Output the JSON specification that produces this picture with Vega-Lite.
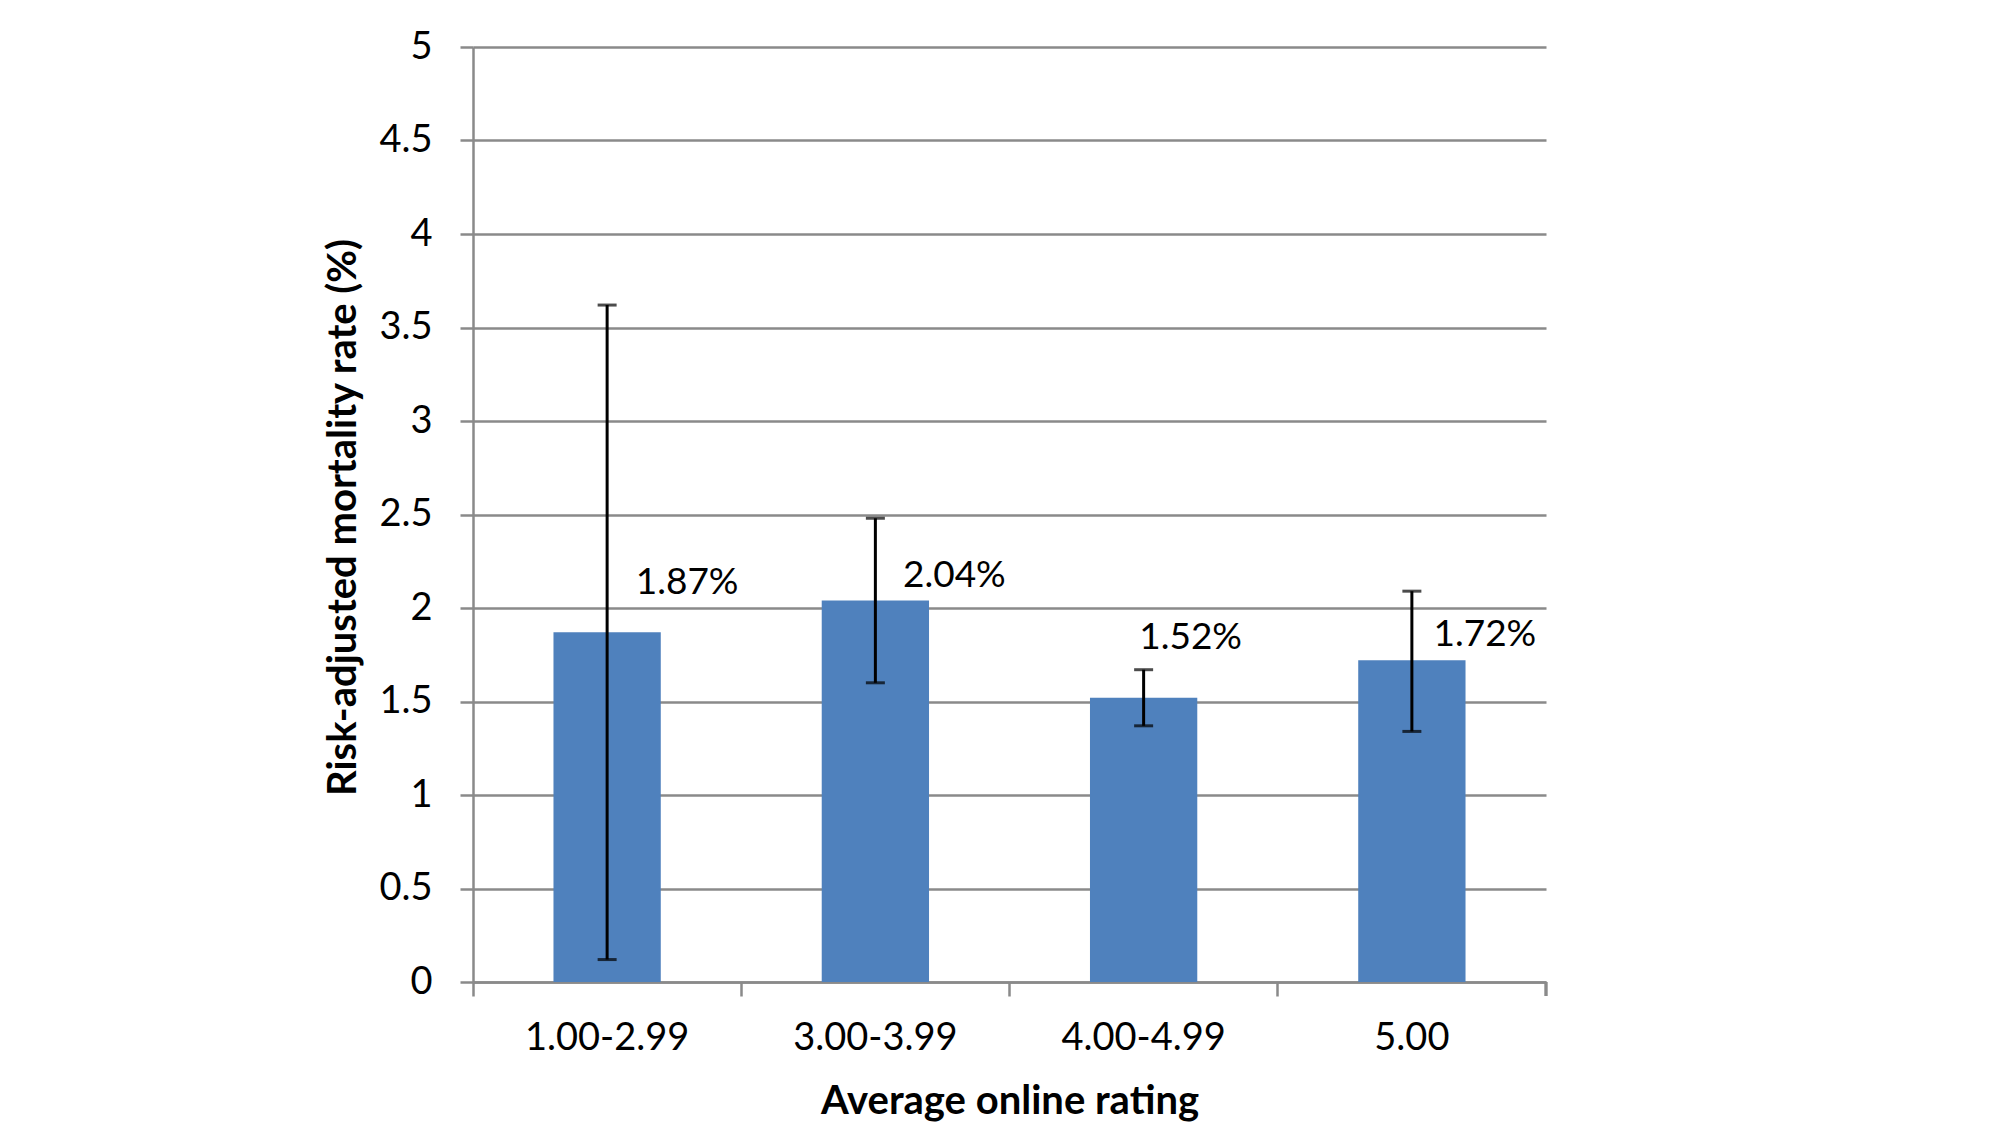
{
  "$schema": "https://vega.github.io/schema/vega-lite/v6.json",
  "width": 1073,
  "height": 935,
  "autosize": {"type": "none"},
  "padding": {"left": 473, "top": 47, "right": 454, "bottom": 164},
  "background": "white",
  "config": {
    "view": {"stroke": null},
    "font": "Lato",
    "axis": {
      "labelColor": "black",
      "titleColor": "black",
      "labelFontSize": 38,
      "titleFontSize": 40,
      "titleFontWeight": "bold",
      "domainColor": "#8a8a8a",
      "domainWidth": 2.5,
      "tickColor": "#8a8a8a",
      "tickWidth": 2.5,
      "gridColor": "#8a8a8a",
      "gridWidth": 2.5
    }
  },
  "data": {
    "values": [
      {"rating": "1.00-2.99", "rate": 1.87, "lower": 0.12, "upper": 3.62, "label": "1.87%"},
      {"rating": "3.00-3.99", "rate": 2.04, "lower": 1.6, "upper": 2.48, "label": "2.04%"},
      {"rating": "4.00-4.99", "rate": 1.52, "lower": 1.37, "upper": 1.67, "label": "1.52%"},
      {"rating": "5.00", "rate": 1.72, "lower": 1.34, "upper": 2.09, "label": "1.72%"}
    ]
  },
  "encoding": {
    "x": {
      "field": "rating",
      "type": "nominal",
      "sort": null,
      "scale": {"paddingInner": 0, "paddingOuter": 0},
      "axis": {
        "title": "Average online rating",
        "titleY": 119,
        "titleBaseline": "middle",
        "labelAngle": 0,
        "labelBaseline": "middle",
        "labelPadding": 42,
        "tickSize": 14,
        "bandPosition": 0,
        "grid": false
      }
    }
  },
  "layer": [
    {
      "mark": {"type": "bar", "color": "#4f81bd", "width": {"band": 0.4}},
      "encoding": {
        "y": {
          "field": "rate",
          "type": "quantitative",
          "scale": {"domain": [0, 5], "nice": false},
          "axis": {
            "title": "Risk-adjusted mortality rate (%)",
            "values": [0, 0.5, 1, 1.5, 2, 2.5, 3, 3.5, 4, 4.5, 5],
            "format": "~g",
            "titleX": -130,
            "titleY": 470,
            "titleAngle": -90,
            "titleAlign": "center",
            "titleBaseline": "middle",
            "labelPadding": 28,
            "tickSize": 13,
            "grid": true
          }
        }
      }
    },
    {
      "mark": {"type": "rule", "color": "black", "strokeWidth": 3},
      "encoding": {
        "y": {"field": "lower", "type": "quantitative"},
        "y2": {"field": "upper"}
      }
    },
    {
      "mark": {"type": "tick", "color": "black", "size": 19, "thickness": 3, "orient": "horizontal"},
      "encoding": {"y": {"field": "lower", "type": "quantitative"}}
    },
    {
      "mark": {"type": "tick", "color": "black", "size": 19, "thickness": 3, "orient": "horizontal"},
      "encoding": {"y": {"field": "upper", "type": "quantitative"}}
    },
    {
      "transform": [{"filter": "datum.rating === '1.00-2.99'"}],
      "mark": {"type": "text", "fontSize": 37, "align": "center", "baseline": "middle", "dx": 80, "dy": -49, "color": "black"},
      "encoding": {"y": {"field": "rate", "type": "quantitative"}, "text": {"field": "label"}}
    },
    {
      "transform": [{"filter": "datum.rating === '3.00-3.99'"}],
      "mark": {"type": "text", "fontSize": 37, "align": "center", "baseline": "middle", "dx": 79, "dy": -25, "color": "black"},
      "encoding": {"y": {"field": "rate", "type": "quantitative"}, "text": {"field": "label"}}
    },
    {
      "transform": [{"filter": "datum.rating === '4.00-4.99'"}],
      "mark": {"type": "text", "fontSize": 37, "align": "center", "baseline": "middle", "dx": 47, "dy": -60, "color": "black"},
      "encoding": {"y": {"field": "rate", "type": "quantitative"}, "text": {"field": "label"}}
    },
    {
      "transform": [{"filter": "datum.rating === '5.00'"}],
      "mark": {"type": "text", "fontSize": 37, "align": "center", "baseline": "middle", "dx": 73, "dy": -25, "color": "black"},
      "encoding": {"y": {"field": "rate", "type": "quantitative"}, "text": {"field": "label"}}
    },
    {
      "mark": {"type": "rule", "color": "#8a8a8a", "strokeWidth": 2.5, "y2Offset": 14},
      "encoding": {
        "x": {"datum": "5.00", "bandPosition": 1},
        "y": {"datum": 0},
        "y2": {"datum": 0}
      }
    }
  ]
}
